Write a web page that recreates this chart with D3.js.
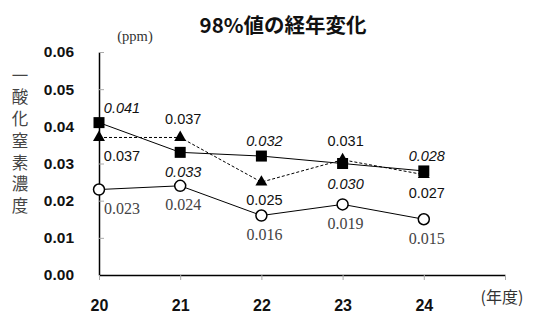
<!DOCTYPE html>
<meta charset="utf-8">
<script src="https://d3js.org/d3.v7.min.js"></script>
<style>
  body { margin: 0; background: #fff; }
  text { font-family: "Liberation Sans", Arial, sans-serif; }
</style>
<div id="my_dataviz"></div>
<script>
  // data
  var years = [20, 21, 22, 23, 24];
  var xTickLabels = ["20", "21", "22", "23", "24", ""];
  var yTicks = [0, 0.01, 0.02, 0.03, 0.04, 0.05, 0.06];
  var squareVals = [0.041, 0.033, 0.032, 0.030, 0.028];
  var triangleVals = [0.037, 0.037, 0.025, 0.031, 0.027];
  var circleVals = [0.023, 0.024, 0.016, 0.019, 0.015];
  // where each value label sits: 1 = above the point, -1 = below
  var squareSide = [1, -1, 1, -1, 1];
  var triangleSide = [-1, 1, -1, 1, -1];
  var circleSide = [-1, -1, -1, -1, -1];

  var W = 535, H = 316;
  var svg = d3.select("#my_dataviz").append("svg")
    .attr("width", W).attr("height", H);

  var x = d3.scaleLinear().domain([20, 25]).range([99, 505]);
  var y = d3.scaleLinear().domain([0, 0.06]).range([275, 52]);

  // title
  svg.append("text")
    .attr("x", 283).attr("y", 26).attr("dy", "0.35em")
    .attr("text-anchor", "middle")
    .style("font-family", "'Noto Sans CJK JP', sans-serif")
    .style("font-size", "20.5px").style("font-weight", "bold").style("fill", "#111")
    .text("98%値の経年変化");

  svg.append("text")
    .attr("x", 135).attr("y", 36).attr("dy", "0.35em")
    .attr("text-anchor", "middle")
    .style("font-family", "'Liberation Serif', serif")
    .style("font-size", "14.5px").style("fill", "#333")
    .text("(ppm)");

  // vertical y title
  var yTitle = "一酸化窒素濃度".split("");
  svg.append("g").selectAll("text")
    .data(yTitle).enter().append("text")
    .attr("x", 20)
    .attr("y", function (d, i) { return 76 + i * 21.7; })
    .attr("dy", "0.35em")
    .attr("text-anchor", "middle")
    .style("font-family", "'Noto Sans CJK JP', sans-serif")
    .style("font-size", "16.5px").style("fill", "#444")
    .text(function (d) { return d; });

  // Y axis
  var yAxis = svg.append("g")
    .attr("transform", "translate(" + x(20) + ",0)")
    .call(d3.axisLeft(y).tickValues(yTicks).tickSize(-5).tickSizeOuter(0)
      .tickPadding(25).tickFormat(d3.format(".2f")));
  yAxis.select(".domain").attr("stroke", "#000").attr("stroke-width", 1.5);
  yAxis.selectAll(".tick line").attr("stroke", "#aaa");
  yAxis.selectAll(".tick text")
    .style("font-size", "15.5px").style("font-weight", "bold").style("fill", "#111");

  // X axis
  var xAxis = svg.append("g")
    .attr("transform", "translate(0," + y(0) + ")")
    .call(d3.axisBottom(x).tickValues([20, 21, 22, 23, 24, 25]).tickSize(5)
      .tickSizeOuter(0).tickPadding(20)
      .tickFormat(function (d, i) { return xTickLabels[i]; }));
  xAxis.select(".domain").attr("stroke", "#000").attr("stroke-width", 1.5);
  xAxis.selectAll(".tick line").attr("stroke", "#aaa");
  xAxis.selectAll(".tick text")
    .style("font-size", "16px").style("font-weight", "bold").style("fill", "#111");

  svg.append("text")
    .attr("x", 502).attr("y", 297).attr("dy", "0.35em")
    .attr("text-anchor", "middle")
    .style("font-family", "'Noto Sans CJK JP', sans-serif")
    .style("font-size", "16px").style("fill", "#333")
    .text("(年度)");

  var line = function (vals) {
    return d3.line()
      .x(function (d, i) { return x(years[i]); })
      .y(function (d) { return y(d); })(vals);
  };

  // circles series
  svg.append("path").attr("d", line(circleVals))
    .attr("fill", "none").attr("stroke", "#000").attr("stroke-width", 1);
  // triangle series (dashed)
  svg.append("path").attr("d", line(triangleVals))
    .attr("fill", "none").attr("stroke", "#000").attr("stroke-width", 1)
    .attr("stroke-dasharray", "3,2");
  // square series
  svg.append("path").attr("d", line(squareVals))
    .attr("fill", "none").attr("stroke", "#000").attr("stroke-width", 1);

  svg.append("g").selectAll("circle")
    .data(circleVals).enter().append("circle")
    .attr("cx", function (d, i) { return x(years[i]); })
    .attr("cy", function (d) { return y(d); })
    .attr("r", 5.5)
    .attr("fill", "#fff").attr("stroke", "#000").attr("stroke-width", 1.5);

  svg.append("g").selectAll("path")
    .data(triangleVals).enter().append("path")
    .attr("d", d3.symbol().type(d3.symbolTriangle).size(62))
    .attr("transform", function (d, i) {
      return "translate(" + x(years[i]) + "," + y(d) + ")";
    })
    .attr("fill", "#000");

  svg.append("g").selectAll("rect")
    .data(squareVals).enter().append("rect")
    .attr("x", function (d, i) { return x(years[i]) - 5.5; })
    .attr("y", function (d) { return y(d) - 5.5; })
    .attr("width", 11).attr("height", 11)
    .attr("fill", "#000");

  // value labels
  function labels(vals, sides, up, down, dx0, style) {
    var g = svg.append("g");
    g.selectAll("text").data(vals).enter().append("text")
      .attr("x", function (d, i) { return x(years[i]) + (i === 0 ? dx0 : 3); })
      .attr("y", function (d, i) { return y(d) - (sides[i] > 0 ? up : -down); })
      .attr("dy", "0.35em")
      .attr("text-anchor", "middle")
      .text(function (d) { return d3.format(".3f")(d); })
      .each(function () { style(d3.select(this)); });
  }

  labels(squareVals, squareSide, 15, 20, 23, function (t) {
    t.style("font-size", "14.5px").style("font-style", "italic").style("fill", "#111");
  });
  labels(triangleVals, triangleSide, 19, 18, 23, function (t) {
    t.style("font-size", "14.5px").style("fill", "#111");
  });
  labels(circleVals, circleSide, 0, 19, 23, function (t) {
    t.style("font-family", "'Liberation Serif', serif")
      .style("font-size", "16px").style("fill", "#444");
  });
</script>
